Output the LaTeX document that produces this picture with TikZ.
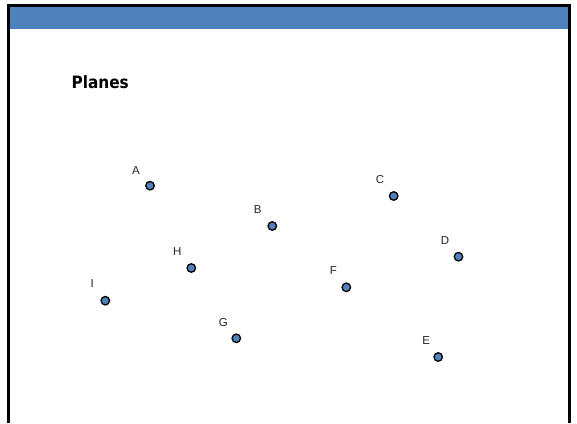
\documentclass[tikz,border=0pt]{standalone}
\usepackage{fontspec}
\setmainfont{Liberation Sans}
\newfontfamily\titlefont{DejaVu Sans Condensed}
\usetikzlibrary{calc}
\definecolor{hdrblue}{HTML}{4F81BD}
\definecolor{dotblue}{HTML}{4F81BD}
\tikzset{
  dotnode/.style={circle, draw=black, line width=1.3pt, fill=dotblue, minimum size=8.5pt, inner sep=0pt},
  lblnode/.style={font=\fontsize{11.5}{13}\selectfont, text=black!85, inner sep=0pt},
  framestyle/.style={line width=3pt, draw=black}
}
\begin{document}
\begin{tikzpicture}[x=1pt,y=-1pt]
\useasboundingbox (0,0) rectangle (577,423);
\fill[white] (0,0) rectangle (577,423);
\fill[hdrblue] (10,7) rectangle (567.7,28.5);
\draw[framestyle] (8.5,423) -- (8.5,5.5) -- (569.2,5.5) -- (569.2,423);
\node[anchor=base west, inner sep=0pt, font=\titlefont\bfseries\fontsize{17}{19}\selectfont] (title) at (71.5,88.3) {Planes};
\node[dotnode] (A) at (150,185.7) {};
\node[dotnode] (B) at (272.3,226) {};
\node[dotnode] (C) at (393.7,196) {};
\node[dotnode] (D) at (458.5,256.7) {};
\node[dotnode] (E) at (438.2,357) {};
\node[dotnode] (F) at (346.3,287.3) {};
\node[dotnode] (G) at (236.3,338.3) {};
\node[dotnode] (H) at (191.3,268) {};
\node[dotnode] (I) at (105.3,300.7) {};
\node[lblnode] (Al) at ($(A)+(-14,-15.5)$) {A};
\node[lblnode] (Bl) at ($(B)+(-14.5,-16.5)$) {B};
\node[lblnode] (Cl) at ($(C)+(-13.7,-16.5)$) {C};
\node[lblnode] (Dl) at ($(D)+(-13.5,-16)$) {D};
\node[lblnode] (El) at ($(E)+(-12,-16)$) {E};
\node[lblnode] (Fl) at ($(F)+(-13,-16.3)$) {F};
\node[lblnode] (Gl) at ($(G)+(-13,-15.7)$) {G};
\node[lblnode] (Hl) at ($(H)+(-14,-16.3)$) {H};
\node[lblnode] (Il) at ($(I)+(-13,-17.5)$) {I};
\end{tikzpicture}
\end{document}
